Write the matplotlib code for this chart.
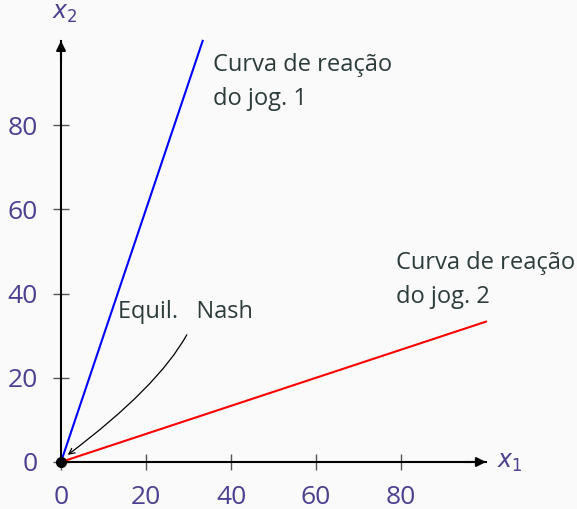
import numpy as np
import matplotlib.pyplot as plt

plt.rcParams['font.family'] = ['Open Sans', 'DejaVu Sans']
plt.rcParams['mathtext.fontset'] = 'dejavusans'

# data
react1_x1 = [0, 100 / 3]      # curve of player 1: x2 = 3 x1
react1_x2 = [0, 100]
react2_x1 = [0, 100]          # curve of player 2: x2 = x1 / 3
react2_x2 = [0, 100 / 3]
nash = (0, 0)
ticks = [0, 20, 40, 60, 80]

label1 = 'Curva de reação\ndo jog. 1'
label2 = 'Curva de reação\ndo jog. 2'
label_nash = 'Equil.   Nash'

bg = '#fafafa'
tick_col = '#4b4190'
text_col = '#2d3b3b'

fig = plt.figure(figsize=(5.77, 5.09), dpi=100, facecolor=bg)
ax = fig.add_axes([0, 0, 1, 1], facecolor=bg)
ax.set_xlim(-14.35, 121.4)
ax.set_ylim(-11.16, 109.7)

for s in ['top', 'right']:
    ax.spines[s].set_visible(False)
for s in ['left', 'bottom']:
    ax.spines[s].set_position(('data', 0))
    ax.spines[s].set_bounds(0, 100)
    ax.spines[s].set_linewidth(1.5)

ax.set_xticks(ticks)
ax.set_yticks(ticks)
ax.tick_params(direction='inout', length=11, width=1, color='#555555',
               labelsize=19, labelcolor=tick_col)
ax.tick_params(axis='x', pad=11)
ax.tick_params(axis='y', pad=11)

# axis arrow heads
for xy, xyt in [((100, 0), (95, 0)), ((0, 100), (0, 95))]:
    ax.annotate('', xy=xy, xytext=xyt,
                arrowprops=dict(arrowstyle='-|>', color='black', lw=1.5,
                                mutation_scale=14, shrinkA=0, shrinkB=0))
ax.text(102.6, 0, '$x_1$', color=tick_col, fontsize=17, ha='left', va='center')
ax.text(0.8, 106.6, '$x_2$', color=tick_col, fontsize=17, ha='center', va='center')

# reaction curves
ax.plot(react1_x1, react1_x2, color='#0000ff', lw=1.5)
ax.plot(react2_x1, react2_x2, color='#ff0000', lw=1.5)
ax.plot(*nash, 'o', color='black', ms=7, zorder=5)

ax.text(35.8, 84.8, label1, color=text_col, fontsize=17,
        ha='left', va='baseline', linespacing=1.55)
ax.text(78.8, 37.8, label2, color=text_col, fontsize=17,
        ha='left', va='baseline', linespacing=1.55)
ax.text(13.4, 34.2, label_nash, color=text_col, fontsize=17,
        ha='left', va='baseline')

ax.annotate('', xy=(1.6, 1.7), xytext=(29.6, 30.2),
            arrowprops=dict(arrowstyle='->', color='black', lw=0.9,
                            connectionstyle='angle3,angleA=61,angleB=37',
                            shrinkA=0, shrinkB=0))

fig.savefig('out.png', dpi=100, facecolor=bg)
